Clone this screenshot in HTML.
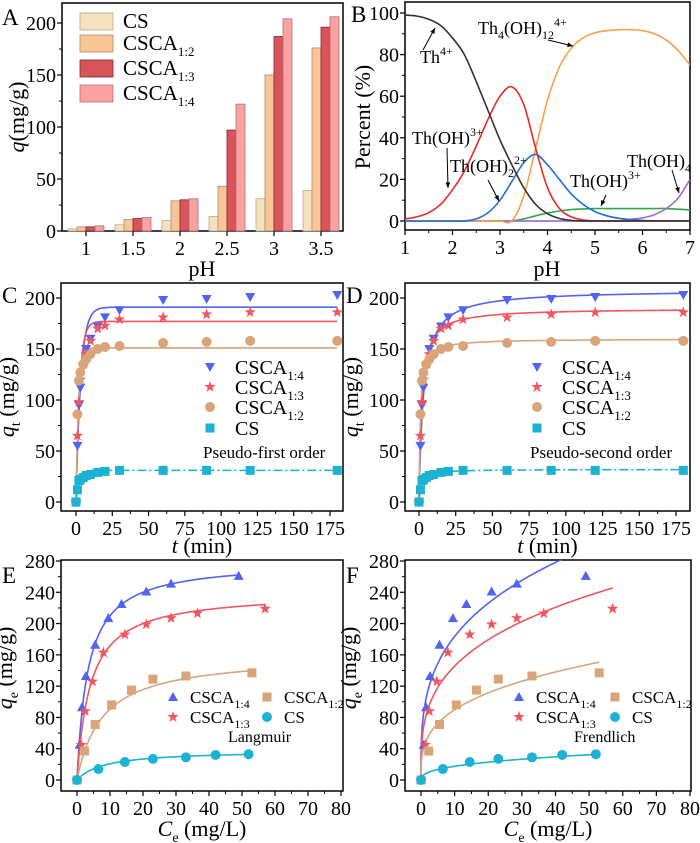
<!DOCTYPE html>
<html><head><meta charset="utf-8">
<style>
html,body{margin:0;padding:0;background:#fff;}
svg{display:block;font-family:"Liberation Serif",serif;}
</style></head>
<body>
<svg id="fig" width="700" height="843" viewBox="0 0 700 843"></svg>
<script>
// ---------- Panel A data ----------
const phCats = ['1','1.5','2','2.5','3','3.5'];
const aCS   = [2, 6, 10, 14, 31, 39];
const aC12  = [4, 11, 29, 43, 150, 176];
const aC13  = [4, 12, 30, 97, 187, 196];
const aC14  = [5, 13, 31, 122, 204, 206];
const aTicks = [0, 50, 100, 150, 200];
// ---------- Panel B data ----------
const bPH = [1,1.25,1.5,1.75,2,2.25,2.5,2.75,3,3.25,3.5,3.75,4,4.25,4.5,4.75,5,5.25,5.5,5.75,6,6.25,6.5,6.75,7];
const bTh4 = [99,98.5,97,94,88,80,67,53,39,27,16,8,3.5,1.2,0.3,0,0,0,0,0,0,0,0,0,0];
const bTh1 = [1,2,4,8,15,24,36,49,60,64.5,56,35,16,6,2,0.5,0,0,0,0,0,0,0,0,0];
const bTh2 = [0,0,0,0,0,0,1,4,10,19,28,32,27,20,13,8,4.5,2.5,1.3,0.7,0.3,0.1,0,0,0];
const bTh412 = [0,0,0,0,0,0,0,0,0,0,12,35,58,74,83,88,90.5,91.5,92,92,91.5,90,87,82,75];
const bTh3 = [0,0,0,0,0,0,0,0,0,0,1,2.5,3.8,4.8,5.5,5.8,6,6,6,6,6,6,6,5.7,5.3];
const bTh4OH = [0,0,0,0,0,0,0,0,0,0,0,0,0,0,0,0,0,0,0,0.8,1.5,3,6,11,20];
const bZero = [0,0,0,0,0,0,0,0,0,0,0,0,0,0,0,0,0,0,0,0,0,0,0,0,0];
const bTicksX = [1,2,3,4,5,6,7];
const bTicksY = [0,20,40,60,80,100];
// ---------- Panel C/D data ----------
const tTime = [0,1,2,3,5,7,10,15,20,30,60,90,120,180];
const tC14 = [0,55,95,112,133,150,160,172,181,188,198,199,201,203];
const tC13 = [0,65,98,120,135,145,158,170,173,179,181,184,186,186];
const tC12 = [0,86,119,127,135,140,145,150,152,153,156,157,158,158];
const tCS  = [0,12,21,22,24,26,27,29,30,31,31,31,31,31];
const pfoQe = [191,177,151,31];
const pfoK  = [0.3,0.4,0.6,0.5];
const psoQe = [208,190,160,32];
const psoK  = [0.0016,0.00286,0.0071,0.022];
const tTicksX = [0,25,50,75,100,125,150,175];
const tTicksY = [0,50,100,150,200];
// ---------- Panel E/F data ----------
const ceC14 = [0,0.8,1.5,2.7,5.5,9.5,13.5,21,28.5,49];
const qeC14 = [0,45,93,133,173,207,225,241,251,261];
const ceC13 = [0,1.3,2.5,4.7,8,14.5,21,28.5,36.5,57];
const qeC13 = [0,45,88,126,163,186,199,207,213,219];
const ceC12 = [0,2.3,5.5,10.5,16.5,23,33,53];
const qeC12 = [0,37,71,96,115,129,133,137];
const ceCS  = [0,6.5,14.5,23,33,42,52];
const qeCS  = [0,14,23,27,29,32,33];
const langQm = [280,240,160,38];
const langK  = [0.3,0.25,0.13,0.12];
const freKF = [92,73,44,7.3];
const freN  = [0.3,0.3,0.31,0.38];
const iTicksX = [0,10,20,30,40,50,60,70,80];
const iTicksY = [0,40,80,120,160,200,240,280];

const NS='http://www.w3.org/2000/svg';
const svg=document.getElementById('fig');
function mk(tag,attrs,parent){const e=document.createElementNS(NS,tag);for(const k in attrs)e.setAttribute(k,attrs[k]);(parent||svg).appendChild(e);return e;}
function lin(d0,d1,r0,r1){return v=>r0+(v-d0)*(r1-r0)/(d1-d0);}

const COL={blue:'#4f63f4',red:'#f2555c',tan:'#d9a479',cyan:'#1cb2d3'};

function frame(p,name){
  const g=mk('g',{});
  
  
  const r=mk('rect',{x:p.x0,y:p.y0,width:p.x1-p.x0,height:p.y1-p.y0,fill:'none',stroke:'#000','stroke-width':1.5},g);
  
  
  return g;
}
function axes(p,g,xt,yt,xs,ys,pref,xlab){
  xt.forEach((v,i)=>{const x=xs(v);
    mk('line',{x1:x,x2:x,y1:p.y1,y2:p.y1+5,stroke:'#000','stroke-width':1.2},g);
    const t=mk('text',{x:x,y:p.y1+24,'font-size':20,'text-anchor':'middle'},g);
    t.textContent=xlab?xlab[i]:v;
    
    
    if(i<xt.length-1&&!xlab){const xm=xs((v+xt[i+1])/2);mk('line',{x1:xm,x2:xm,y1:p.y1,y2:p.y1+3,stroke:'#000','stroke-width':1},g);}
  });
  yt.forEach((v,i)=>{const y=ys(v);
    mk('line',{x1:p.x0-5,x2:p.x0,y1:y,y2:y,stroke:'#000','stroke-width':1.2},g);
    const t=mk('text',{x:p.x0-6,y:y+7,'font-size':20,'text-anchor':'end'},g);
    t.textContent=v;
    
    
    if(i<yt.length-1){const ym=ys((v+yt[i+1])/2);mk('line',{x1:p.x0-3,x2:p.x0,y1:ym,y2:ym,stroke:'#000','stroke-width':1},g);}
  });
}
function label(x,y,txt,name,size,anchor,g){
  const t=mk('text',{x:x,y:y,'font-size':size||20,'text-anchor':anchor||'start'},g);
  t.innerHTML=txt;
  
  
  return t;
}
function ytitle(x,cy,txt,name,g){
  const t=mk('text',{x:0,y:0,'font-size':22,'text-anchor':'middle',transform:`translate(${x},${cy}) rotate(-90)`},g);
  t.innerHTML=txt;
  
  
}
function smoothPath(pts){
  let d=`M${pts[0][0]},${pts[0][1]}`;
  for(let i=0;i<pts.length-1;i++){
    const p0=pts[i-1]||pts[i],p1=pts[i],p2=pts[i+1],p3=pts[i+2]||p2;
    const c1x=p1[0]+(p2[0]-p0[0])/6,c1y=p1[1]+(p2[1]-p0[1])/6;
    const c2x=p2[0]-(p3[0]-p1[0])/6,c2y=p2[1]-(p3[1]-p1[1])/6;
    d+=` C${c1x},${c1y} ${c2x},${c2y} ${p2[0]},${p2[1]}`;
  }
  return d;
}
function marker(type,x,y,color,g){
  let e;
  const s=5;
  if(type==='tri-down') e=mk('path',{d:`M${x-s},${y-s+1}L${x+s},${y-s+1}L${x},${y+s}Z`,fill:color},g);
  else if(type==='tri-up') e=mk('path',{d:`M${x-s},${y+s-1}L${x+s},${y+s-1}L${x},${y-s}Z`,fill:color},g);
  else if(type==='circle') e=mk('circle',{cx:x,cy:y,r:5,fill:color},g);
  else if(type==='square') e=mk('rect',{x:x-4.5,y:y-4.5,width:9,height:9,fill:color},g);
  else {let d='';for(let k=0;k<10;k++){const a=-Math.PI/2+k*Math.PI/5,r=k%2?2.4:6;d+=(k?'L':'M')+(x+r*Math.cos(a))+','+(y+r*Math.sin(a));}e=mk('path',{d:d+'Z',fill:color},g);}
  return e;
}
function clip(id,p){const c=mk('clipPath',{id:id});mk('rect',{x:p.x0,y:p.y0,width:p.x1-p.x0,height:p.y1-p.y0},c);}

// ================= Panel A =================
(function(){
  const p={x0:62,x1:343,y0:3,y1:231};
  const g=frame(p,'panel-a');
  const ys=lin(0,200,231,23);
  const xs=i=>86+i*47;
  axes(p,g,phCats.map((c,i)=>i),aTicks,xs,ys,'panel-a',phCats);
  const series=[aCS,aC12,aC13,aC14];
  const fills=['#f3e2bd','#f8c597','#d9535b','#fba0a3'];
  const strokes=['#b8a98a','#b08a6a','#7a2a2e','#b07276'];
  const names=['cs','csca-1-2','csca-1-3','csca-1-4'];
  series.forEach((arr,s)=>{
    arr.forEach((v,i)=>{
      const x=xs(i)-18+s*9;
      const b=mk('rect',{x:x,y:ys(v),width:9,height:ys(0)-ys(v),fill:fills[s],stroke:strokes[s],'stroke-width':0.8},g);
      
      
    });
  });
  const tops=[13,35,60,85];
  const txt=['CS','CSCA<tspan font-size="13" dy="6">1:2</tspan>','CSCA<tspan font-size="13" dy="6">1:3</tspan>','CSCA<tspan font-size="13" dy="6">1:4</tspan>'];
  tops.forEach((t,s)=>{
    const r=mk('rect',{x:80,y:t,width:33,height:17,fill:fills[s],stroke:strokes[s],'stroke-width':0.8},g);
    
    
    label(123,t+15,txt[s],'legend-entry-'+names[s],21,'start',g);
  });
  label(2,25,'A','panel-a-letter',23,'start',g);
  label(202,276,'pH','panel-a-x-axis-title',22,'middle',g);
  ytitle(24,117,'<tspan font-style="italic">q</tspan>(mg/g)','panel-a-y-axis-title',g);
})();

// ================= Panel B =================
(function(){
  const p={x0:405,x1:690,y0:2,y1:230};
  clip('clipB',p);
  const g=frame(p,'panel-b');
  const xs=lin(1,7,405,690), ys=lin(0,100,221,13);
  axes(p,g,bTicksX,bTicksY,xs,ys,'panel-b');
  const ser=[[bZero,'#3cb0e8','th-oh4-baseline'],[bTh3,'#2da84a','curve-th-oh-3plus-b'],[bTh4OH,'#a56ad8','curve-th-oh4'],[bTh412,'#f9a04a','curve-th4-oh12'],[bTh2,'#1e6fd9','curve-th-oh2-2plus'],[bTh1,'#e8282b','curve-th-oh-3plus'],[bTh4,'#333333','curve-th4plus']];
  const cg=mk('g',{'clip-path':'url(#clipB)'},g);
  ser.forEach(([arr,c,n])=>{
    const pts=bPH.map((x,i)=>[xs(x),ys(arr[i])]);
    const e=mk('path',{d:smoothPath(pts),fill:'none',stroke:c,'stroke-width':1.6},cg);
    
    
  });
  const arrows=[[423,50,435,28],[548,40,573,46],[447,148,448,188],[488,180,499,201],[606,195,601,206],[672,170,679,193]];
  arrows.forEach(a=>{
    const l=mk('line',{x1:a[0],y1:a[1],x2:a[2],y2:a[3],stroke:'#000','stroke-width':1},g);
    
    
    const ang=Math.atan2(a[3]-a[1],a[2]-a[0]);
    const hx=a[2],hy=a[3];
    mk('path',{d:`M${hx},${hy}L${hx-6*Math.cos(ang-0.4)},${hy-6*Math.sin(ang-0.4)}L${hx-6*Math.cos(ang+0.4)},${hy-6*Math.sin(ang+0.4)}Z`,fill:'#000'},g);
  });
  label(420,63,'Th<tspan font-size="12" dy="-8">4+</tspan>','label-th4plus',18,'start',g);
  label(478,34,'Th<tspan font-size="12" dy="5">4</tspan><tspan dy="-5">(OH)</tspan><tspan font-size="12" dy="5">12</tspan><tspan font-size="12" dy="-13">4+</tspan>','label-th4-oh12',18,'start',g);
  label(412,144,'Th(OH)<tspan font-size="12" dy="-8">3+</tspan>','label-th-oh-3plus',18,'start',g);
  label(450,172,'Th(OH)<tspan font-size="12" dy="5">2</tspan><tspan font-size="12" dy="-13">2+</tspan>','label-th-oh2-2plus',18,'start',g);
  label(570,187,'Th(OH)<tspan font-size="12" dy="-8">3+</tspan>','label-th-oh-3plus-b',18,'start',g);
  label(627,167,'Th(OH)<tspan font-size="12" dy="5">4</tspan>','label-th-oh4',18,'start',g);
  label(351,22,'B','panel-b-letter',23,'start',g);
  label(547,276,'pH','panel-b-x-axis-title',22,'middle',g);
  ytitle(370,117,'Percent (%)','panel-b-y-axis-title',g);
})();

// ================= Panels C & D =================
function kinetic(p,x0px,x1px,letter,model,title,lx){
  const id='clip'+letter;clip(id,p);
  const pn='panel-'+letter.toLowerCase();
  const g=frame(p,pn);
  const xs=lin(0,175,x0px,x1px), ys=lin(0,200,502,298);
  axes(p,g,tTicksX,tTicksY,xs,ys,pn);
  const data=[tC14,tC13,tC12,tCS];
  const cols=[COL.blue,COL.red,COL.tan,COL.cyan];
  const mks=['tri-down','star','circle','square'];
  const nm=['csca-1-4','csca-1-3','csca-1-2','cs'];
  const cg=mk('g',{'clip-path':`url(#${id})`},g);
  data.forEach((arr,s)=>{
    const pts=[];
    for(let t=0;t<=180;t+=0.5){
      let q;
      if(model==='pfo') q=pfoQe[s]*(1-Math.exp(-pfoK[s]*t));
      else {const x=psoK[s]*psoQe[s]*t;q=psoQe[s]*x/(1+x);}
      pts.push((t?'L':'M')+xs(t)+','+ys(q));
    }
    const l=mk('path',{d:pts.join(''),fill:'none',stroke:cols[s],'stroke-width':1.6,'stroke-dasharray':s===3?'9,3,2,3':'none'},cg);
    
    
  });
  data.forEach((arr,s)=>{
    arr.forEach((v,i)=>{
      const m=marker(mks[s],xs(tTime[i]),ys(v),cols[s],g);
      
      
    });
  });
  const ly=[367,387,407,428];
  const txt=['CSCA<tspan font-size="13" dy="6">1:4</tspan>','CSCA<tspan font-size="13" dy="6">1:3</tspan>','CSCA<tspan font-size="13" dy="6">1:2</tspan>','CS'];
  ly.forEach((y,s)=>{
    const m=marker(mks[s],lx,y,cols[s],g);
    
    
    label(lx+25,y+7,txt[s],'legend-entry-'+nm[s],20,'start',g);
  });
  label(lx-7,458,title,pn+'-model-label',17,'start',g);
  label(p.x0-59,303,letter,pn+'-letter',23,'start',g);
  label((p.x0+p.x1)/2,553,'<tspan font-style="italic">t</tspan> (min)',pn+'-x-axis-title',22,'middle',g);
  ytitle(p.x0-47,397,'<tspan font-style="italic">q</tspan><tspan font-size="14" dy="6">t</tspan><tspan dy="-6"> (mg/g)</tspan>',pn+'-y-axis-title',g);
}
kinetic({x0:61,x1:343,y0:283,y1:511},76,330,'C','pfo','Pseudo-first order',210);
kinetic({x0:405,x1:690,y0:283,y1:511},419,676,'D','pso','Pseudo-second order',537);

// ================= Panels E & F =================
function isotherm(p,x0px,x1px,letter,model,title,lx1,lx2){
  const id='clip'+letter;clip(id,p);
  const pn='panel-'+letter.toLowerCase();
  const g=frame(p,pn);
  const xs=lin(0,80,x0px,x1px), ys=lin(0,280,780,561);
  axes(p,g,iTicksX,iTicksY,xs,ys,pn);
  const cx=[ceC14,ceC13,ceC12,ceCS], qy=[qeC14,qeC13,qeC12,qeCS];
  const cols=[COL.blue,COL.red,COL.tan,COL.cyan];
  const mks=['tri-up','star','square','circle'];
  const nm=['csca-1-4','csca-1-3','csca-1-2','cs'];
  const cg=mk('g',{'clip-path':`url(#${id})`},g);
  cx.forEach((arr,s)=>{
    const cmax=arr[arr.length-1];
    const pts=[];
    for(let i=0;i<=300;i++){
      const c=cmax*Math.pow(i/300,2);
      const q=model==='lang'?langQm[s]*langK[s]*c/(1+langK[s]*c):freKF[s]*Math.pow(c,freN[s]);
      pts.push((i?'L':'M')+xs(c)+','+ys(q));
    }
    const l=mk('path',{d:pts.join(''),fill:'none',stroke:cols[s],'stroke-width':1.6},cg);
    
    
  });
  cx.forEach((arr,s)=>{
    arr.forEach((c,i)=>{
      const m=marker(mks[s],xs(c),ys(qy[s][i]),cols[s],g);
      
      
    });
  });
  const items=[[lx1,697,0,'CSCA<tspan font-size="12" dy="5">1:4</tspan>'],[lx1,717,1,'CSCA<tspan font-size="12" dy="5">1:3</tspan>'],[lx2,697,2,'CSCA<tspan font-size="12" dy="5">1:2</tspan>'],[lx2,717,3,'CS']];
  items.forEach(([x,y,s,t])=>{
    const m=marker(mks[s],x,y,cols[s],g);
    
    
    label(x+17,y+6,t,'legend-entry-'+nm[s],17,'start',g);
  });
  label(lx1+55,742,title,pn+'-model-label',16,'start',g);
  label(p.x0-59,583,letter,pn+'-letter',23,'start',g);
  label((p.x0+p.x1)/2,836,'<tspan font-style="italic">C</tspan><tspan font-size="14" dy="6">e</tspan><tspan dy="-6"> (mg/L)</tspan>',pn+'-x-axis-title',22,'middle',g);
  ytitle(p.x0-49,668,'<tspan font-style="italic">q</tspan><tspan font-size="14" dy="6">e</tspan><tspan dy="-6"> (mg/g)</tspan>',pn+'-y-axis-title',g);
}
isotherm({x0:61,x1:343,y0:560,y1:791},77,341,'E','lang','Langmuir',173,267);
isotherm({x0:405,x1:691,y0:560,y1:791},421,690,'F','fre','Frendlich',519,615);
</script>
</body></html>
